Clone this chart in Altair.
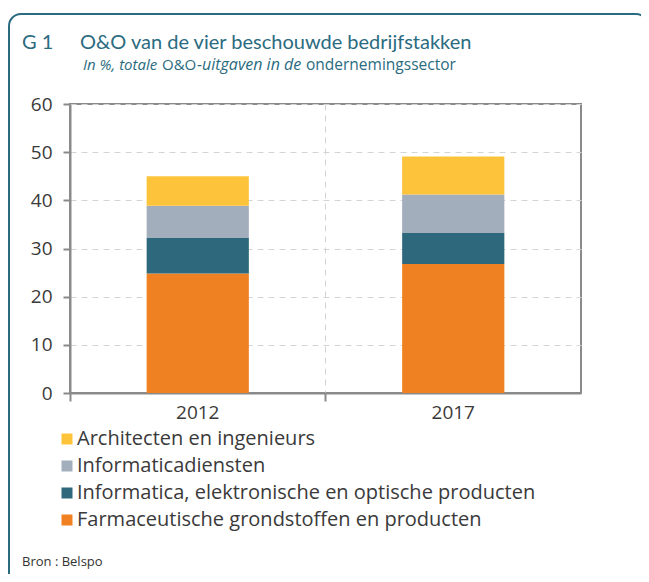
import altair as alt
import pandas as pd

years = ["2012", "2017"]
categories = [
    "Farmaceutische grondstoffen en producten",
    "Informatica, elektronische en optische producten",
    "Informaticadiensten",
    "Architecten en ingenieurs",
]
farma = [24.8, 26.8]
info_elek = [7.4, 6.4]
info_dienst = [6.7, 8.0]
archi = [6.1, 7.9]
colors = ["#f08122", "#2e687c", "#a3aebc", "#fdc43b"]
y_ticks = [0, 10, 20, 30, 40, 50, 60]

series = [farma, info_elek, info_dienst, archi]
rows = []
for ci, (cat, vals) in enumerate(zip(categories, series)):
    for yr, v in zip(years, vals):
        rows.append({"jaar": yr, "tak": cat, "waarde": v, "rang": ci})
df = pd.DataFrame(rows)

TEAL = "#2b6b80"
GREY = "#8a8a8a"
FONT = "Open Sans"
TXT = "#3a3a3a"

bars = alt.Chart(df).mark_bar().encode(
    x=alt.X("jaar:N", title=None,
            scale=alt.Scale(paddingInner=0.6, paddingOuter=0.3),
            axis=alt.Axis(labelAngle=0, labelFontSize=19, labelColor=TXT,
                          labelFont=FONT, bandPosition=-0.75,
                          tickSize=8, tickColor=GREY, tickWidth=2,
                          domainColor=GREY, domainWidth=2, labelPadding=2,
                          grid=True, gridDash=[6, 5], gridColor="#d4d4d4")),
    y=alt.Y("waarde:Q", title=None, stack="zero",
            scale=alt.Scale(domain=[0, 60], nice=False),
            axis=alt.Axis(values=y_ticks, labelFontSize=19, labelColor=TXT,
                          labelFont=FONT, tickSize=7, tickColor=GREY, tickWidth=2,
                          domainColor=GREY, domainWidth=2, labelPadding=11,
                          grid=True, gridDash=[6, 5], gridColor="#d4d4d4")),
    color=alt.Color("tak:N",
                    scale=alt.Scale(domain=categories[::-1], range=colors[::-1]),
                    legend=alt.Legend(title=None, orient="none", legendX=-13,
                                      legendY=325, labelFontSize=20,
                                      labelFont=FONT, labelColor=TXT,
                                      symbolType="square", symbolSize=121,
                                      symbolStrokeWidth=0, rowPadding=7,
                                      labelOffset=0, labelLimit=600)),
    order=alt.Order("rang:Q", sort="ascending"),
)

def txt(s, x, y, size, color, style="normal", font=FONT, weight="normal"):
    return alt.Chart(pd.DataFrame({"t": [s]})).mark_text(
        align="left", baseline="middle", fontSize=size, color=color,
        fontStyle=style, font=font, fontWeight=weight,
    ).encode(text="t:N", x=alt.value(x), y=alt.value(y))

border = alt.Chart(pd.DataFrame({"t": [0]})).mark_rect(
    fillOpacity=0, stroke=TEAL, strokeWidth=2, cornerRadius=12,
).encode(x=alt.value(-61), x2=alt.value(578), y=alt.value(-90), y2=alt.value(500))

layers = [
    border,
    bars,
    txt("G 1", -48, -61, 20, TEAL, font="Lato"),
    txt("O&O van de vier beschouwde bedrijfstakken", 10, -61, 20, TEAL, font="Lato"),
    txt("In %,  totale", 13, -39, 15, TEAL, style="italic"),
    txt("O&O", 92, -39, 15, TEAL),
    txt("-uitgaven in de", 127, -39, 16, TEAL, style="italic"),
    txt("ondernemingssector", 236, -39, 15.5, TEAL),
    txt("Bron : Belspo", -48, 458, 13, "#333333"),
]

chart = alt.layer(*layers).properties(
    width=511, height=289,
    autosize=alt.AutoSizeParams(type="none"),
    padding={"left": 62, "top": 96, "right": 60, "bottom": 181},
).configure_view(stroke=GREY, strokeWidth=2)

chart.save("out.html", embed_options={"renderer": "svg", "actions": False})
